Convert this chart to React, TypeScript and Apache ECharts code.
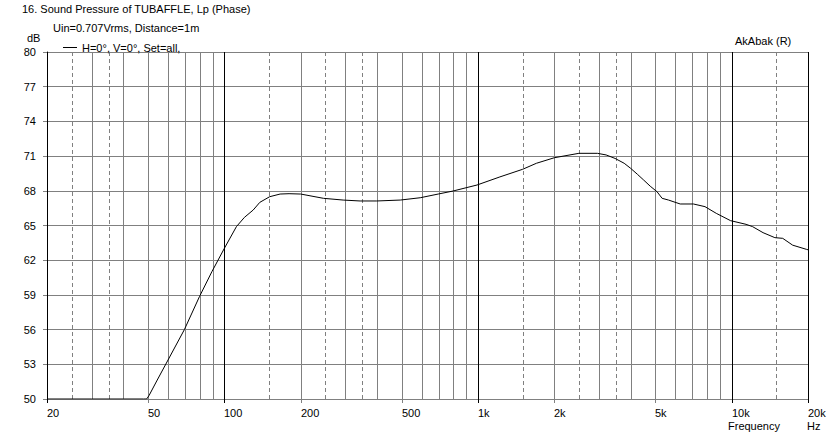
import React, { useEffect, useRef } from "react";
import * as echarts from "echarts";

// Frequency response (Hz, dB)
const freqs = [20, 30, 40, 48, 49.4, 50.5, 54.4, 60, 69.6, 79.8, 89.3, 99.9, 111.6, 120, 130, 138, 151, 166, 180, 200, 246, 294, 343, 399, 494, 592, 697, 797, 991, 1220, 1500, 1700, 2000, 2500, 2955, 3200, 3470, 3770, 4000, 4250, 4500, 4775, 5080, 5320, 5640, 6270, 7070, 7850, 8700, 9900, 11400, 12100, 13300, 14800, 15900, 17400, 19700, 20000];
const levels = [50, 50, 50, 50, 50, 50.3, 51.64, 53.37, 56.0, 58.85, 61.0, 63.0, 64.9, 65.7, 66.34, 67.0, 67.49, 67.72, 67.75, 67.72, 67.35, 67.2, 67.12, 67.12, 67.2, 67.4, 67.72, 67.98, 68.5, 69.2, 69.86, 70.38, 70.86, 71.24, 71.24, 71.1, 70.8, 70.38, 69.94, 69.43, 68.93, 68.4, 67.92, 67.35, 67.2, 66.86, 66.86, 66.63, 66.05, 65.42, 65.1, 64.9, 64.38, 63.95, 63.89, 63.3, 62.94, 62.9];

// Grid lines
const decadeLines = [20, 100, 1000, 10000, 20000];
const minorSolidLines = [30, 40, 50, 60, 70, 80, 90, 200, 300, 400, 500, 600, 700, 800, 900, 2000, 3000, 4000, 5000, 6000, 7000, 8000, 9000];
const minorDashedLines = [25, 35, 150, 250, 350, 1500, 2500, 3500, 15000];

// X tick labels
const tickFreqs = [20, 50, 100, 200, 500, 1000, 2000, 5000, 10000, 20000];
const tickLabels = ["20", "50", "100", "200", "500", "1k", "2k", "5k", "10k", "20k"];

const seriesName = "H=0°, V=0°, Set=all,";
const FONT = "'Liberation Sans', Arial, sans-serif";

export default function App() {
  const ref = useRef<HTMLDivElement>(null);
  useEffect(() => {
    if (!ref.current) return;
    const chart = echarts.init(ref.current, undefined, { renderer: "svg" });

    const gridData: any[] = [];
    decadeLines.forEach((f) => gridData.push([f, 0]));
    minorSolidLines.forEach((f) => gridData.push([f, 1]));
    minorDashedLines.forEach((f) => gridData.push([f, 2]));

    const tickSet = new Set(tickFreqs);

    const option: any = {
      animation: false,
      backgroundColor: "#fff",
      textStyle: { fontFamily: FONT },
      grid: { left: 47, top: 52, width: 761, height: 347 },
      legend: {
        left: 58,
        top: 37,
        icon: "rect",
        itemWidth: 14,
        itemHeight: 1,
        data: [seriesName],
        textStyle: { fontSize: 11, color: "#000", fontFamily: FONT },
      },
      xAxis: {
        type: "log",
        logBase: 10,
        min: 20,
        max: 20000,
        axisLine: { show: true, lineStyle: { color: "#808080", width: 1 } },
        axisTick: { show: false },
        axisLabel: { show: false },
        splitLine: { show: false },
      },
      yAxis: {
        type: "value",
        min: 50,
        max: 80,
        interval: 3,
        axisLine: { show: true, lineStyle: { color: "#000", width: 1 } },
        axisTick: { show: true, length: 4, lineStyle: { color: "#808080" } },
        axisLabel: { fontSize: 11, color: "#000", margin: 11, fontFamily: FONT },
        splitLine: { show: true, lineStyle: { color: "#808080", width: 1 } },
      },
      graphic: [
        { type: "text", left: 22, top: 3, style: { text: "16. Sound Pressure of TUBAFFLE, Lp (Phase)", fontSize: 11, fill: "#000", fontFamily: FONT } },
        { type: "text", left: 53, top: 22, style: { text: "Uin=0.707Vrms, Distance=1m", fontSize: 11, fill: "#000", fontFamily: FONT } },
        { type: "text", left: 27, top: 32, style: { text: "dB", fontSize: 11, fill: "#000", fontFamily: FONT } },
        { type: "text", left: 735, top: 35, style: { text: "AkAbak (R)", fontSize: 11, fill: "#000", fontFamily: FONT } },
        { type: "text", left: 728, top: 420, style: { text: "Frequency", fontSize: 11, fill: "#000", fontFamily: FONT } },
        { type: "text", left: 807, top: 420, style: { text: "Hz", fontSize: 11, fill: "#000", fontFamily: FONT } },
      ],
      series: [
        {
          type: "custom",
          name: "grid",
          silent: true,
          clip: false,
          z: 1,
          data: gridData,
          renderItem: (params: any, api: any) => {
            const f = api.value(0);
            const kind = api.value(1);
            const top = api.coord([f, 80]);
            const bot = api.coord([f, 50]);
            const x = Math.round(top[0]) + 0.5;
            const ext = tickSet.has(f) ? 4 : 0;
            return {
              type: "line",
              shape: { x1: x, y1: Math.round(top[1]), x2: x, y2: Math.round(bot[1]) + ext },
              style: {
                stroke: kind === 0 ? "#000" : "#808080",
                lineWidth: 1,
                lineDash: kind === 2 ? [4, 3] : null,
              },
            };
          },
        },
        {
          type: "custom",
          name: "xlabels",
          silent: true,
          clip: false,
          z: 3,
          data: tickFreqs.map((f, i) => [f, i]),
          renderItem: (params: any, api: any) => {
            const f = api.value(0);
            const i = api.value(1);
            const p = api.coord([f, 50]);
            return {
              type: "text",
              x: Math.round(p[0]),
              y: Math.round(p[1]) + 8,
              style: {
                text: tickLabels[i],
                fontSize: 11,
                fill: "#000",
                fontFamily: FONT,
                align: "left",
                verticalAlign: "top",
              },
            };
          },
        },
        {
          type: "line",
          name: seriesName,
          z: 5,
          showSymbol: false,
          symbol: "none",
          smooth: false,
          color: "#000",
          lineStyle: { color: "#000", width: 1 },
          data: freqs.map((f, i) => [f, levels[i]]),
        },
      ],
    };
    chart.setOption(option);
    return () => chart.dispose();
  }, []);
  return (
    <div
      ref={ref}
      style={{ position: "absolute", left: 0, top: 0, width: 834, height: 441 }}
    />
  );
}
